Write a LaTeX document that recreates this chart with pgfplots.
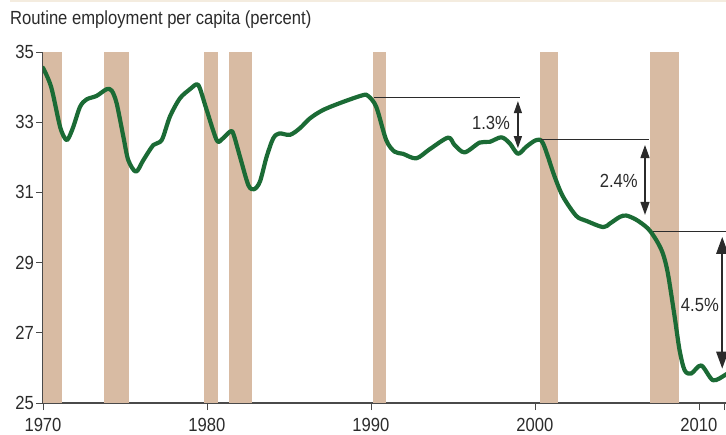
\documentclass[border=0pt]{standalone}
\usepackage{fontspec}
\setmainfont{Liberation Sans}[FakeStretch=0.875]
\usepackage{pgfplots}
\pgfplotsset{compat=1.18}
\usetikzlibrary{arrows.meta}
\definecolor{bar}{HTML}{D8BBA3}
\definecolor{curve}{HTML}{1B6B35}
\definecolor{axisgray}{HTML}{4A4A4A}
\definecolor{txt}{HTML}{2B2B2B}
\definecolor{topline}{HTML}{F4ECDF}
\begin{document}
\begin{tikzpicture}[x=1pt,y=1pt]
\useasboundingbox (0,0) rectangle (726,434);
\fill[topline] (10,432) rectangle (726,434);
\node[anchor=base west, inner sep=0pt, text=txt, font=\fontsize{19}{21}\selectfont] at (10,409) {Routine employment per capita (percent)};
\begin{axis}[
  at={(43pt,31pt)}, anchor=south west,
  scale only axis, width=683pt, height=351pt,
  xmin=1970, xmax=2011.65, ymin=25, ymax=35,
  axis x line*=bottom, axis y line*=left,
  axis line style={-, draw=axisgray, line width=1.1pt},
  xtick={1970,1980,1990,2000,2010},
  extra x ticks={2011.55}, extra x tick labels={},
  ytick={25,27,29,31,33,35},
  tick align=outside, major tick length=7pt,
  tick style={draw=axisgray, line width=0.9pt},
  xticklabel style={/pgf/number format/1000 sep={}},
  /pgf/number format/assume math mode=true,
  ticklabel style={font=\fontsize{19}{21}\selectfont, text=txt},
  yticklabel style={inner sep=1pt, xshift=-1pt},
  xticklabel style={inner sep=2pt, yshift=-6pt},
  clip=true,
]
% recession bars
\addplot[fill=bar, draw=none] coordinates {(1970.0,25) (1970.0,35) (1971.16,35) (1971.16,25)} --cycle;
\addplot[fill=bar, draw=none] coordinates {(1973.72,25) (1973.72,35) (1975.24,35) (1975.24,25)} --cycle;
\addplot[fill=bar, draw=none] coordinates {(1979.82,25) (1979.82,35) (1980.67,35) (1980.67,25)} --cycle;
\addplot[fill=bar, draw=none] coordinates {(1981.34,25) (1981.34,35) (1982.72,35) (1982.72,25)} --cycle;
\addplot[fill=bar, draw=none] coordinates {(1990.12,25) (1990.12,35) (1990.91,35) (1990.91,25)} --cycle;
\addplot[fill=bar, draw=none] coordinates {(2000.28,25) (2000.28,35) (2001.40,35) (2001.40,25)} --cycle;
\addplot[fill=bar, draw=none] coordinates {(2007.03,25) (2007.03,35) (2008.76,35) (2008.76,25)} --cycle;
% series
\addplot[curve, line width=4.2pt, smooth, tension=0.5, line join=round, line cap=round] coordinates {
(1970.0,34.55) (1970.5,34.0) (1971.04,32.87) (1971.38,32.51) (1971.55,32.54) (1971.85,32.87)
(1972.26,33.44) (1972.66,33.65) (1973.27,33.75) (1973.88,33.94) (1974.19,33.9) (1974.49,33.54)
(1974.9,32.59) (1975.2,31.92) (1975.67,31.59) (1976.12,31.92) (1976.73,32.35) (1977.24,32.49)
(1977.74,33.16) (1978.35,33.68) (1978.96,33.94) (1979.37,34.08) (1979.57,33.96) (1979.98,33.35)
(1980.59,32.49) (1980.9,32.51) (1981.4,32.73) (1981.6,32.68) (1982.01,32.02) (1982.52,31.21)
(1982.87,31.09) (1983.23,31.31) (1983.64,32.02) (1984.04,32.54) (1984.41,32.68) (1985.06,32.64)
(1985.67,32.83) (1986.28,33.11) (1987.09,33.35) (1988.31,33.58) (1989.51,33.77) (1989.82,33.75)
(1990.32,33.44) (1990.93,32.49) (1991.44,32.16) (1991.95,32.1) (1992.76,31.97) (1993.58,32.23)
(1994.7,32.56) (1995.1,32.35) (1995.71,32.14) (1996.63,32.42) (1997.24,32.44) (1997.95,32.57)
(1998.46,32.4) (1998.96,32.1) (1999.47,32.3) (2000.08,32.49) (2000.49,32.4) (2001.2,31.45)
(2001.71,30.88) (2002.52,30.33) (2003.13,30.19) (2004.15,30.01) (2004.56,30.11) (2005.17,30.3)
(2005.57,30.34) (2006.18,30.22) (2006.89,29.97) (2007.4,29.64) (2007.8,29.26) (2008.11,28.68)
(2008.52,27.45) (2008.82,26.5) (2009.13,25.93) (2009.53,25.84) (2010.14,26.07) (2010.85,25.65)
(2011.57,25.79) (2011.65,25.82)
};
% annotations
\draw[txt, line width=0.9pt] (axis cs:1990.2,33.70) -- (axis cs:1999.07,33.70);
\draw[txt, line width=1.3pt, {Triangle[length=12pt,width=8pt]}-{Triangle[length=12pt,width=8pt]}] (axis cs:1998.96,33.60) -- (axis cs:1998.96,32.26);
\node[text=txt, font=\fontsize{19}{21}\selectfont, inner sep=0pt] at (axis cs:1997.32,32.99) {1.3\%};
\draw[txt, line width=0.9pt] (axis cs:2000.38,32.52) -- (axis cs:2006.97,32.52);
\draw[txt, line width=1.3pt, {Triangle[length=13pt,width=9pt]}-{Triangle[length=13pt,width=9pt]}] (axis cs:2006.71,32.35) -- (axis cs:2006.71,30.36);
\node[text=txt, font=\fontsize{19}{21}\selectfont, inner sep=0pt] at (axis cs:2005.11,31.33) {2.4\%};
\draw[txt, line width=0.9pt] (axis cs:2007.2,29.89) -- (axis cs:2011.65,29.89);
\draw[txt, line width=1.5pt, {Triangle[length=17pt,width=12pt]}-{Triangle[length=17pt,width=12pt]}] (axis cs:2011.42,29.73) -- (axis cs:2011.42,25.98);
\node[text=txt, font=\fontsize{19}{21}\selectfont, inner sep=0pt] at (axis cs:2010.06,27.80) {4.5\%};
\end{axis}
\end{tikzpicture}
\end{document}
